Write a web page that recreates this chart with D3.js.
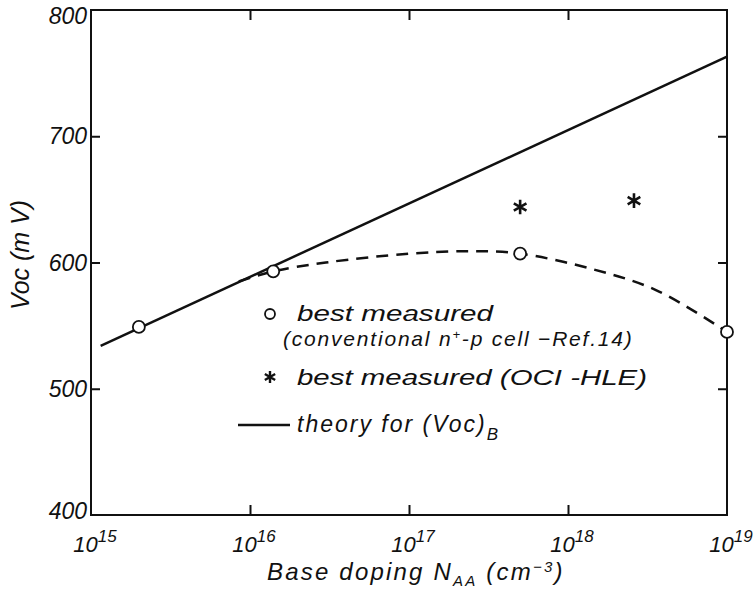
<!DOCTYPE html>
<html>
<head>
<meta charset="utf-8">
<script src="https://cdn.jsdelivr.net/npm/d3@7"></script>
<style>
  body { margin: 0; background: #fff; }
  svg text { font-family: "Liberation Sans", Arial, sans-serif; font-style: italic; fill: #111; }
</style>
</head>
<body>
<div id="chart"></div>
<script>
// values
const xTicks = [1e15, 1e16, 1e17, 1e18, 1e19];
const xTickExp = ['15', '16', '17', '18', '19'];
const yTicks = [400, 500, 600, 700, 800];

const convDoping = [2e15, 1.4e16, 5e17, 1e19];
const convVoc = [549, 593, 607, 545];

const hleDoping = [5e17, 2.6e18];
const hleVoc = [644, 649];

const theoryDoping = [1.15e15, 1e19];
const theoryVoc = [534, 763];

const fitDoping = [8.5e15, 1.4e16, 3e16, 1e17, 2.5e17, 5e17, 1.4e18, 3.6e18, 1e19];
const fitVoc = [585, 593, 600, 607, 609, 607, 595, 578, 545];

const W = 756, H = 589;
const margin = { top: 10, right: 29, bottom: 74, left: 91 },
    width = W - margin.left - margin.right,
    height = H - margin.top - margin.bottom;

const svg = d3.select('#chart')
    .append('svg')
    .attr('width', W)
    .attr('height', H)
    .append('g')
    .attr('transform', `translate(${margin.left},${margin.top})`);

const x = d3.scaleLog().domain([1e15, 1e19]).range([0, width]);
const y = d3.scaleLinear().domain([400, 800]).range([height, 0]);

// frame
svg.append('rect')
    .attr('width', width).attr('height', height)
    .attr('fill', 'none').attr('stroke', '#111').attr('stroke-width', 2);

// inward ticks on all four sides
const inner = xTicks.slice(1, -1);
svg.append('g').attr('transform', `translate(0,${height})`)
    .call(d3.axisBottom(x).tickValues(inner).tickSize(-10).tickFormat(''))
    .call(g => g.select('.domain').remove());
svg.append('g')
    .call(d3.axisTop(x).tickValues(inner).tickSize(-10).tickFormat(''))
    .call(g => g.select('.domain').remove());
svg.append('g')
    .call(d3.axisLeft(y).tickValues([500, 600, 700]).tickSize(-9).tickFormat(''))
    .call(g => g.select('.domain').remove());
svg.append('g').attr('transform', `translate(${width},0)`)
    .call(d3.axisRight(y).tickValues([500, 600, 700]).tickSize(-9).tickFormat(''))
    .call(g => g.select('.domain').remove());
svg.selectAll('.tick line').attr('stroke', '#111').attr('stroke-width', 2);

// y tick labels
svg.selectAll('.ylab')
    .data(yTicks)
    .enter()
    .append('text')
    .attr('class', 'ylab')
    .attr('x', -4)
    .attr('y', d => y(d) + 8 + (d === 800 ? 6 : 0) - (d === 400 ? 4 : 0))
    .attr('text-anchor', 'end')
    .style('font-size', '23px')
    .text(d => d);

// x tick labels, 10 with superscript
const xl = svg.selectAll('.xlab')
    .data(xTicks)
    .enter()
    .append('text')
    .attr('class', 'xlab')
    .attr('x', d => x(d) + 4)
    .attr('y', height + 37)
    .attr('text-anchor', 'middle')
    .style('font-size', '22px');
xl.append('tspan').text('10');
xl.append('tspan').attr('dy', -10).style('font-size', '17px').text((d, i) => xTickExp[i]);

// axis titles
const xt = svg.append('text')
    .attr('x', 176)
    .attr('y', height + 65)
    .style('font-size', '24px')
    .style('letter-spacing', '2.2px');
xt.append('tspan').text('Base doping  N');
xt.append('tspan').attr('dy', 6).style('font-size', '15px').text('AA');
xt.append('tspan').attr('dy', -6).text(' (cm');
xt.append('tspan').attr('dy', -8).style('font-size', '15px').text('−3');
xt.append('tspan').attr('dy', 8).text(')');

svg.append('text')
    .attr('transform', `translate(${-62},${245}) rotate(-90)`)
    .attr('text-anchor', 'middle')
    .style('font-size', '25px')
    .text('Voc (m V)');

// theory line
const line = d3.line().x(d => x(d[0])).y(d => y(d[1]));
svg.append('path')
    .datum(d3.zip(theoryDoping, theoryVoc))
    .attr('d', line)
    .attr('fill', 'none').attr('stroke', '#111').attr('stroke-width', 2.5);

// dashed fit through measured points
svg.append('path')
    .datum(d3.zip(fitDoping, fitVoc))
    .attr('d', line.curve(d3.curveCatmullRom))
    .attr('fill', 'none').attr('stroke', '#111').attr('stroke-width', 2.5)
    .attr('stroke-dasharray', '12,8');

// open circles
svg.selectAll('.conv')
    .data(d3.zip(convDoping, convVoc))
    .enter()
    .append('circle')
    .attr('class', 'conv')
    .attr('cx', d => x(d[0]))
    .attr('cy', d => y(d[1]))
    .attr('r', 6)
    .attr('fill', '#fff').attr('stroke', '#111').attr('stroke-width', 1.8);

// asterisks
const star = d3.symbol().type(d3.symbolAsterisk).size(150);
svg.selectAll('.hle')
    .data(d3.zip(hleDoping, hleVoc))
    .enter()
    .append('path')
    .attr('class', 'hle')
    .attr('transform', d => `translate(${x(d[0])},${y(d[1])})`)
    .attr('d', star)
    .attr('fill', 'none').attr('stroke', '#111').attr('stroke-width', 2.6);

// legend
const lg = svg.append('g').attr('transform', 'translate(-91,-10)');
lg.append('circle').attr('cx', 270).attr('cy', 314).attr('r', 5)
    .attr('fill', '#fff').attr('stroke', '#111').attr('stroke-width', 1.8);
lg.append('text').attr('x', 297).attr('y', 321).style('font-size', '22px')
    .attr('textLength', 196).attr('lengthAdjust', 'spacingAndGlyphs')
    .text('best  measured');
const l2 = lg.append('text').attr('x', 283).attr('y', 346).style('font-size', '21px')
    .style('letter-spacing', '1.8px');
l2.append('tspan').text('(conventional n');
l2.append('tspan').attr('dy', -7).style('font-size', '13px').text('+');
l2.append('tspan').attr('dy', 7).text('-p cell −Ref.14)');
lg.append('path').attr('transform', 'translate(270,377)')
    .attr('d', d3.symbol().type(d3.symbolAsterisk).size(100))
    .attr('stroke', '#111').attr('stroke-width', 2.4);
lg.append('text').attr('x', 297).attr('y', 385).style('font-size', '22px')
    .attr('textLength', 350).attr('lengthAdjust', 'spacingAndGlyphs')
    .text('best  measured  (OCI -HLE)');
lg.append('line').attr('x1', 238).attr('x2', 290).attr('y1', 425).attr('y2', 425)
    .attr('stroke', '#111').attr('stroke-width', 2.5);
const l3 = lg.append('text').attr('x', 297).attr('y', 432).style('font-size', '23px')
    .style('letter-spacing', '2px');
l3.append('tspan').text('theory  for  (Voc)');
l3.append('tspan').attr('dy', 8).style('font-size', '17px').text('B');
</script>
</body>
</html>
